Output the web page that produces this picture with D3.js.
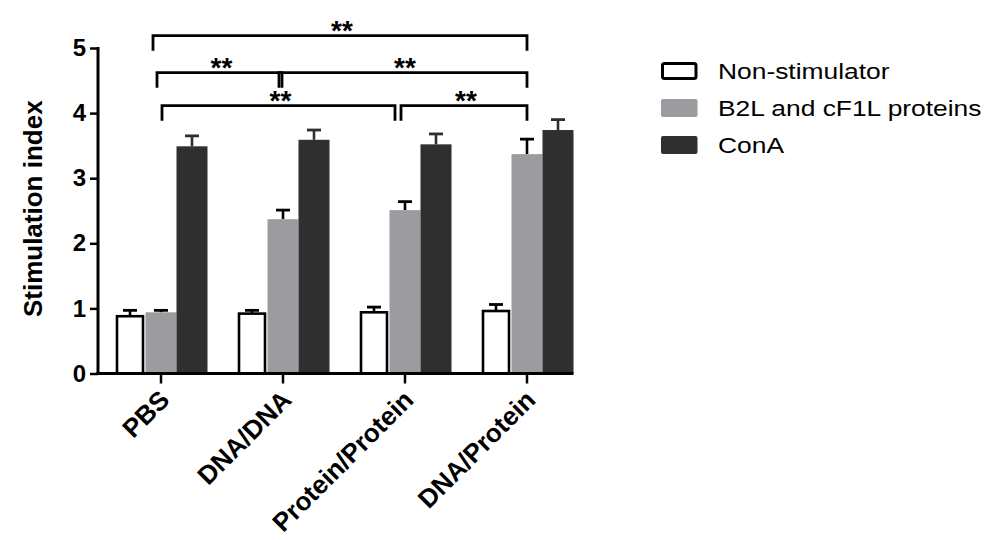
<!DOCTYPE html>
<html>
<head>
<meta charset="utf-8">
<script src="https://cdn.jsdelivr.net/npm/d3@7/dist/d3.min.js"></script>
<style>
  html, body { margin: 0; padding: 0; background: #fff; }
  svg { display: block; font-family: "Liberation Sans", Arial, sans-serif; }
</style>
</head>
<body>
<div id="chart"></div>
<script>
// groups on the x axis
const categories = ["PBS", "DNA/DNA", "Protein/Protein", "DNA/Protein"];
const seriesNames = ["Non-stimulator", "B2L and cF1L proteins", "ConA"];

// means per series, in category order
const nonStim = [0.88, 0.92, 0.94, 0.96];
const b2lProt = [0.94, 2.37, 2.51, 3.37];
const conA    = [3.49, 3.59, 3.52, 3.74];

// upper error (SD) per series
const nonStimErr = [0.09, 0.05, 0.08, 0.10];
const b2lProtErr = [0.03, 0.14, 0.13, 0.23];
const conAErr    = [0.16, 0.15, 0.16, 0.16];

const yTicks = [0, 1, 2, 3, 4, 5];

// significance brackets: from group, to group, level (0 = top)
const bracketFrom  = ["PBS", "PBS", "DNA/DNA", "PBS", "Protein/Protein"];
const bracketTo    = ["DNA/Protein", "DNA/DNA", "DNA/Protein", "Protein/Protein", "DNA/Protein"];
const bracketLevel = [0, 1, 1, 2, 2];
const bracketLabel = ["**", "**", "**", "**", "**"];

const colors = ["#ffffff", "#9c9ca0", "#2f2f2f"];

const width = 998, height = 540;
const margins = { top: 48, left: 98 };

const svg = d3.select("#chart").append("svg")
  .attr("width", width)
  .attr("height", height)
  .style("background-color", "#fff");

const y = d3.scaleLinear().domain([0, 5]).range([373.5, margins.top]);
const x = d3.scaleBand().domain(categories).range([100, 588]).padding(0);
const groupW = 93;
const groupOff = (x.bandwidth() - groupW) / 2;
const xSub = d3.scaleBand().domain(seriesNames).range([0, groupW]).padding(0);

const series = [
  { name: seriesNames[0], values: nonStim, err: nonStimErr, color: colors[0] },
  { name: seriesNames[1], values: b2lProt, err: b2lProtErr, color: colors[1] },
  { name: seriesNames[2], values: conA, err: conAErr, color: colors[2] }
];

const rows = [];
series.forEach((s, si) => {
  categories.forEach((c, ci) => {
    rows.push({ cat: c, s: s.name, si: si, v: s.values[ci], e: s.err[ci], color: s.color });
  });
});

const bx = d => x(d.cat) + groupOff + xSub(d.s);

// error bars first, so the bar hides the lower half
const err = svg.append("g").attr("class", "errors");
err.selectAll("line.stem").data(rows).enter().append("line")
  .attr("x1", d => bx(d) + xSub.bandwidth() / 2)
  .attr("x2", d => bx(d) + xSub.bandwidth() / 2)
  .attr("y1", d => y(d.v))
  .attr("y2", d => y(d.v + d.e))
  .style("stroke", d => d.si == 2 ? "#2f2f2f" : "#000")
  .style("stroke-width", 2.6);
err.selectAll("line.cap").data(rows).enter().append("line")
  .attr("x1", d => bx(d) + xSub.bandwidth() / 2 - 7)
  .attr("x2", d => bx(d) + xSub.bandwidth() / 2 + 7)
  .attr("y1", d => y(d.v + d.e))
  .attr("y2", d => y(d.v + d.e))
  .style("stroke", d => d.si == 2 ? "#2f2f2f" : "#000")
  .style("stroke-width", 2.8);

// bars
svg.append("g").attr("class", "bars")
  .selectAll("rect").data(rows).enter().append("rect")
  .attr("x", d => d.si == 0 ? bx(d) + 2.5 : bx(d))
  .attr("width", d => d.si == 0 ? xSub.bandwidth() - 5 : xSub.bandwidth())
  .attr("y", d => y(d.v))
  .attr("height", d => y(0) - y(d.v))
  .style("fill", d => d.color)
  .style("stroke", d => d.si == 0 ? "#000" : "none")
  .style("stroke-width", 2.6);

// y axis
const yAxis = svg.append("g")
  .attr("transform", "translate(" + margins.left + ",0)")
  .call(d3.axisLeft(y).tickValues(yTicks).tickSize(8).tickPadding(4).tickFormat(d3.format("d")));
yAxis.select(".domain").remove();
yAxis.append("line")
  .attr("y1", y(0) + 1.5).attr("y2", y(5) - 1)
  .style("stroke", "#000").style("stroke-width", 3);
yAxis.selectAll(".tick line").style("stroke", "#000").style("stroke-width", 2.5);
yAxis.selectAll(".tick text")
  .style("font-family", "'Liberation Sans', Arial, sans-serif")
  .style("font-size", "24px").style("font-weight", "bold").style("fill", "#000");

// x axis
const xAxis = svg.append("g")
  .attr("transform", "translate(0," + y(0) + ")")
  .call(d3.axisBottom(x).tickSize(10).tickFormat(""));
xAxis.select(".domain").remove();
xAxis.append("line")
  .attr("x1", margins.left - 1.5)
  .attr("x2", x(categories[categories.length - 1]) + groupOff + groupW)
  .style("stroke", "#000").style("stroke-width", 3);
xAxis.selectAll(".tick line").style("stroke", "#000").style("stroke-width", 2.5);

svg.append("g").attr("class", "xlabels")
  .selectAll("text").data(categories).enter().append("text")
  .attr("transform", d => "translate(" + (x(d) + x.bandwidth() / 2 + 10) + "," + (y(0) + 28) + ") rotate(-45)")
  .attr("text-anchor", "end")
  .style("font-size", "26px").style("font-weight", "bold")
  .text(d => d);

// y title
svg.append("text")
  .attr("transform", "translate(42," + (y(2.5) - 2) + ") rotate(-90)")
  .attr("text-anchor", "middle")
  .style("font-size", "26px").style("font-weight", "bold")
  .text("Stimulation index");

// brackets over the gray bars
const levelY = [35.7, 72.7, 105.7];
const cx = c => x(c) + x.bandwidth() / 2;
const brackets = bracketFrom.map((f, i) => ({
  x1: cx(f) + (i == 0 ? -8 : i == 1 ? -4 : i == 3 ? 1 : -4),
  x2: cx(bracketTo[i]) + (i == 1 ? -1 : i == 3 ? -10 : 0),
  yy: levelY[bracketLevel[i]],
  label: bracketLabel[i]
}));
const br = svg.append("g").attr("class", "brackets");
br.selectAll("path").data(brackets).enter().append("path")
  .attr("d", d => "M" + d.x1 + "," + (d.yy + 15) + "V" + d.yy + "H" + d.x2 + "V" + (d.yy + 15))
  .style("fill", "none").style("stroke", "#000").style("stroke-width", 2.8);
br.selectAll("text").data(brackets).enter().append("text")
  .attr("x", d => (d.x1 + d.x2) / 2 + 2)
  .attr("y", d => d.yy + 4)
  .attr("text-anchor", "middle")
  .style("font-size", "28px").style("font-weight", "bold")
  .text(d => d.label);

// legend
const legend = svg.append("g").attr("transform", "translate(661,62)");
const li = legend.selectAll("g").data(series).enter().append("g")
  .attr("transform", (d, i) => "translate(0," + (i * 37) + ")");
li.append("rect")
  .attr("x", d => d.color == "#ffffff" ? 1.5 : 0)
  .attr("y", d => d.color == "#ffffff" ? 1.5 : 0)
  .attr("width", d => d.color == "#ffffff" ? 33.5 : 36.5)
  .attr("height", d => d.color == "#ffffff" ? 15 : 18)
  .attr("rx", 2)
  .style("fill", d => d.color)
  .style("stroke", d => d.color == "#ffffff" ? "#000" : "none")
  .style("stroke-width", 3);
li.append("text")
  .attr("transform", "translate(57,16.5) scale(1.2,1)")
  .style("font-size", "22px")
  .text(d => d.name);
</script>
</body>
</html>
